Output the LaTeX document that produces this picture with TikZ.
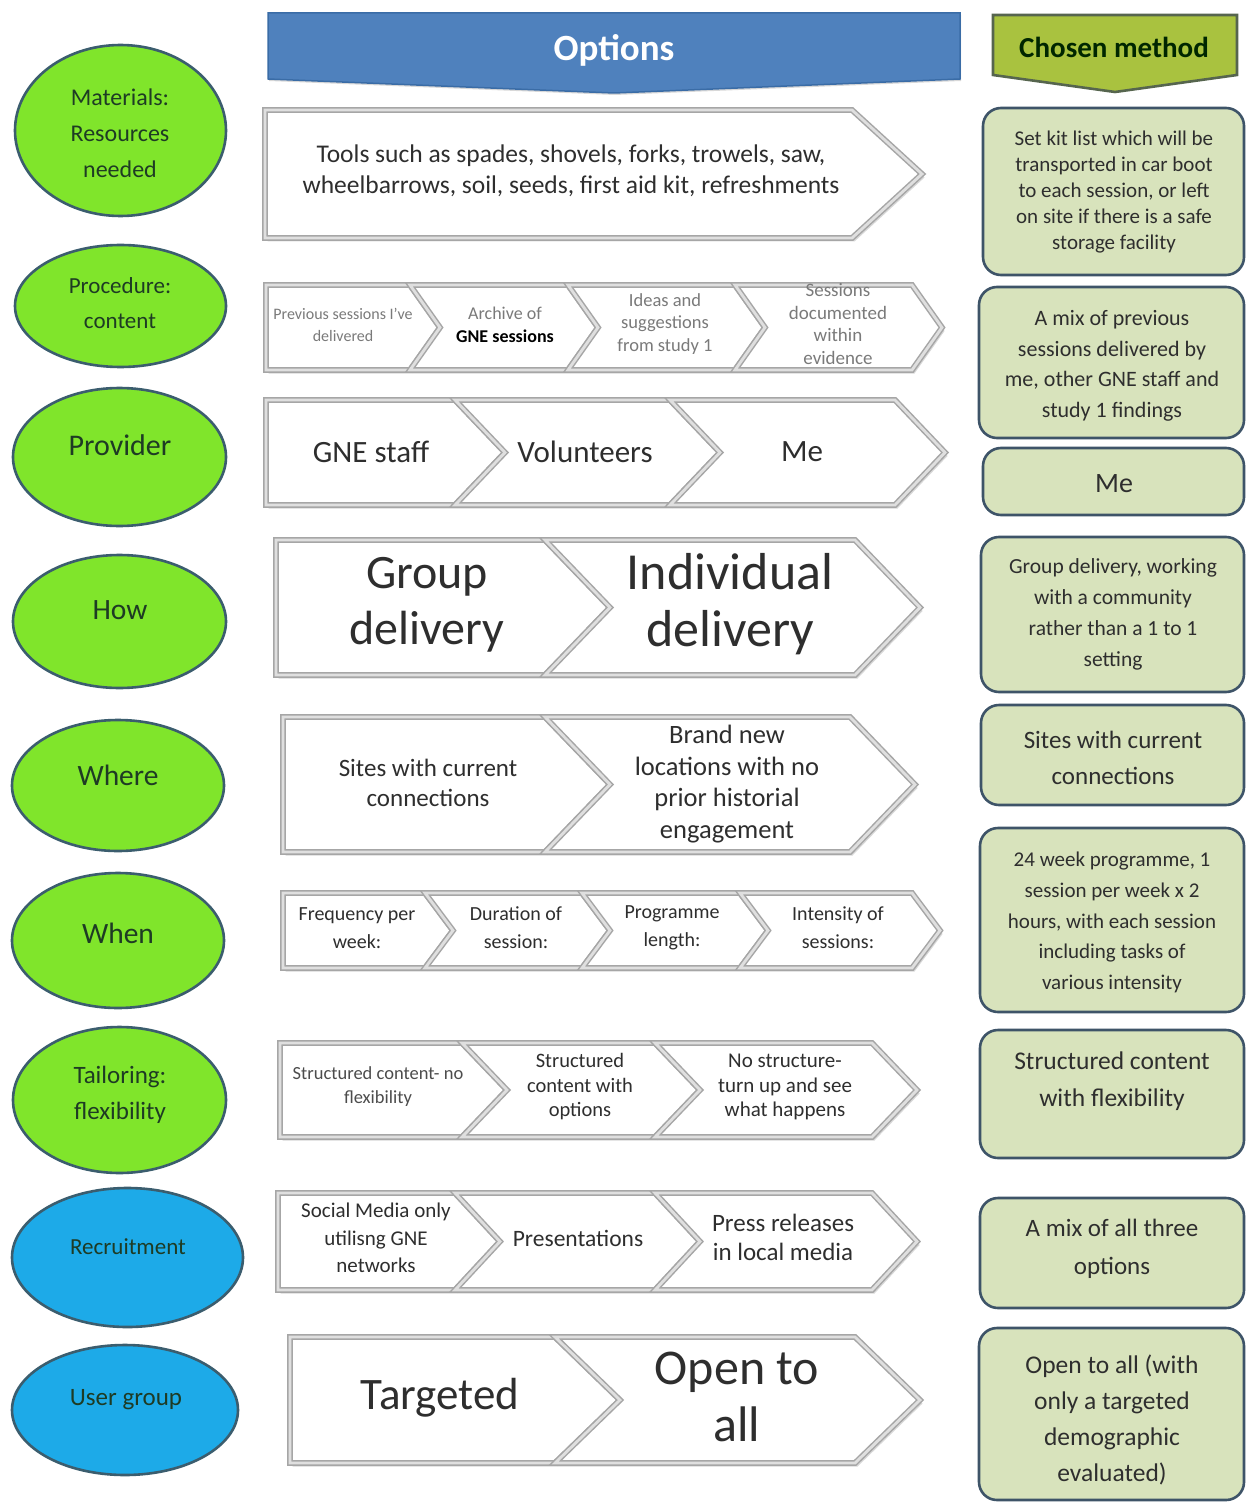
\documentclass[tikz,border=0pt]{standalone}
\usepackage{fontspec}
\setmainfont{Carlito}
\usepackage{xcolor}
\definecolor{optBlue}{HTML}{4F81BD}
\definecolor{optBlueDark}{HTML}{3A6CA6}
\definecolor{chosenOlive}{HTML}{A9C23F}
\definecolor{chosenEdge}{HTML}{56654E}
\definecolor{boxFill}{HTML}{D8E3BC}
\definecolor{boxEdge}{HTML}{3E5468}
\definecolor{topicLime}{HTML}{80E52B}
\definecolor{topicSky}{HTML}{1DAAE8}
\definecolor{topicEdge}{HTML}{3B5D6E}
\definecolor{topicInk}{HTML}{1E3B24}
\definecolor{chevInk}{HTML}{2E2E2E}
\definecolor{chevPale}{HTML}{7A7A7A}
\usepackage{tikz}
\usetikzlibrary{positioning,calc,shapes.geometric,shadows}

\newcommand{\setfs}[2]{\fontsize{#1}{#2}\selectfont}
% chevron: left x, shoulder x, top y, bottom y, tip depth, notch depth
\newcommand{\chev}[6]{%
  \path[chevbox] (#1,#3) -- (#2,#3) -- ({#2+#5},{(#3+#4)/2}) -- (#2,#4)
    -- (#1,#4) -- ({#1+#6},{(#3+#4)/2}) -- cycle;}

\begin{document}
\begin{tikzpicture}[x=1pt,y=-1pt,
      every node/.style={align=center,inner sep=0pt},
      topic/.style={ellipse,draw=topicEdge,line width=2.6pt,fill=topicLime},
      topicblue/.style={topic,fill=topicSky},
      topictxt/.style={text=topicInk},
      chevbox/.style={fill=white,draw=gray!70,line width=1.5pt,
                      double=gray!25,double distance=2.8pt,
                      drop shadow={shadow xshift=2.5pt,shadow yshift=-3.5pt,
                                   fill=gray!60,opacity=.5}},
      opttxt/.style={text=chevInk},
      chosenbox/.style={rounded corners=18pt,draw=boxEdge,line width=2.6pt,
                        fill=boxFill},
      chosentxt/.style={text=black!82},
    ]

    \fill[white] (0,0) rectangle (1248,1503);
    \useasboundingbox (0,0) rectangle (1248,1503);

    % Headers
    \path[fill=optBlue,draw=optBlueDark,line width=1.5pt,
          drop shadow={shadow xshift=1pt,shadow yshift=-2pt,opacity=.3}]
      (268,13) -- (960,13) -- (960,79) -- (614,93) -- (268,79) -- cycle;
    \node[text=white,font=\bfseries\setfs{37}{40}] (options) at (614,50) {Options};
    \path[fill=chosenOlive,draw=chosenEdge,line width=2.6pt]
      (993,15) -- (1237,15) -- (1237,75) -- (1115,92) -- (993,75) -- cycle;
    \node[text=black!85!green,font=\bfseries\setfs{29}{32}] (chosen) at (1114,47)
      {Chosen method};

    % Left: the topics
    \node[topic,minimum width=211,minimum height=171] (mat) at (120.5,130.5) {};
    \node[topictxt,font=\setfs{24}{36}] (matT) at (120,133) {Materials:\\Resources\\needed};
    \node[topic,minimum width=211,minimum height=122] (proc) at (120.5,306) {};
    \node[topictxt,font=\setfs{23}{35}] (procT) at (120,303.5) {Procedure:\\content};
    \node[topic,minimum width=213,minimum height=138] (prov) at (119.5,457) {};
    \node[topictxt,font=\setfs{30}{34}] (provT) at (120,445) {Provider};
    \node[topic,minimum width=213,minimum height=133] (how) at (119.5,621.5) {};
    \node[topictxt,font=\setfs{29.5}{34}] (howT) at (120,610) {How};
    \node[topic,minimum width=212,minimum height=131] (where) at (118,785.5) {};
    \node[topictxt,font=\setfs{29.5}{34}] (whereT) at (118,775) {Where};
    \node[topic,minimum width=212,minimum height=135] (when) at (118,940.5) {};
    \node[topictxt,font=\setfs{29.5}{34}] (whenT) at (118,933) {When};
    \node[topic,minimum width=213,minimum height=146] (tail) at (119.5,1100) {};
    \node[topictxt,font=\setfs{25}{36}] (tailT) at (120,1095) {Tailoring:\\flexibility};
    \node[topicblue,minimum width=231,minimum height=139] (recr) at (127.5,1257.5) {};
    \node[topictxt,font=\setfs{23}{28}] (recrT) at (128,1247) {Recruitment};
    \node[topicblue,minimum width=226,minimum height=130] (user) at (125,1410) {};
    \node[topictxt,font=\setfs{25}{30}] (userT) at (126,1400) {User group};

    % Middle: the options, one row of chevrons per topic
    \chev{265}{852}{110}{238}{70}{0}
    \node[opttxt,font=\setfs{25.5}{31}] (tools) at (571,171)
      {Tools such as spades, shovels, forks, trowels, saw,\\
       wheelbarrows, soil, seeds, first aid kit, refreshments};

    \chev{266}{410}{285}{370}{30}{0}
    \chev{410}{568}{285}{370}{30}{30}
    \chev{568}{735}{285}{370}{30}{30}
    \chev{735}{912}{285}{370}{30}{30}
    \node[text=chevPale,font=\setfs{16}{22.5}] (prev) at (343,325)
      {Previous sessions I've\\delivered};
    \node[text=chevPale,font=\setfs{18}{22.5}] (archive) at (505,325)
      {Archive of\\\textcolor{black}{\textbf{GNE sessions}}};
    \node[text=chevPale,font=\setfs{18.5}{22.5}] (ideas) at (665,324)
      {Ideas and\\suggestions\\from study 1};
    \node[text=chevPale,font=\setfs{19}{22.5}] (docs) at (838,324)
      {Sessions\\documented\\within\\evidence};

    \chev{266}{455}{400}{505}{50}{0}
    \chev{455}{670}{400}{505}{50}{50}
    \chev{670}{895}{400}{505}{50}{50}
    \node[opttxt,font=\setfs{31}{34}] (staff) at (371,452) {GNE staff};
    \node[opttxt,font=\setfs{31}{34}] (vol) at (585,452) {Volunteers};
    \node[opttxt,font=\setfs{31}{34}] (me) at (802,452) {Me};

    \chev{276}{545}{540}{675}{65}{0}
    \chev{545}{855}{540}{675}{65}{65}
    \node[opttxt,font=\setfs{48}{56}] (group) at (427,605) {Group\\delivery};
    \node[opttxt,font=\setfs{52}{57}] (indiv) at (730,604) {Individual\\delivery};

    \chev{283}{545}{717}{852}{65}{0}
    \chev{545}{850}{717}{852}{65}{65}
    \node[opttxt,font=\setfs{25}{30}] (sites) at (428,783) {Sites with current\\connections};
    \node[opttxt,font=\setfs{26.5}{31.5}] (brand) at (727,784)
      {Brand new\\locations with no\\prior historial\\engagement};

    \chev{283}{425}{893}{968}{28}{0}
    \chev{425}{582}{893}{968}{28}{28}
    \chev{582}{740}{893}{968}{28}{28}
    \chev{740}{912}{893}{968}{28}{28}
    \node[opttxt,font=\setfs{20}{28}] (freq) at (357,928) {Frequency per\\week:};
    \node[opttxt,font=\setfs{20}{28}] (dur) at (516,928) {Duration of\\session:};
    \node[opttxt,font=\setfs{20}{28}] (prog) at (672,928) {Programme\\length:};
    \node[opttxt,font=\setfs{20}{28}] (inten) at (838,928) {Intensity of\\sessions:};

    \chev{280}{462}{1043}{1137}{45}{0}
    \chev{462}{655}{1043}{1137}{45}{45}
    \chev{655}{872}{1043}{1137}{45}{45}
    \node[text=gray!60!black,font=\setfs{18.5}{24}] (fixed) at (378,1087)
      {Structured content- no\\flexibility};
    \node[opttxt,font=\setfs{20.5}{24.5}] (struct) at (580,1087)
      {Structured\\content with\\options};
    \node[opttxt,font=\setfs{21}{24.5}] (loose) at (785,1087)
      {No structure-\\turn up and see\\what happens};

    \chev{278}{455}{1193}{1290}{45}{0}
    \chev{455}{655}{1193}{1290}{45}{45}
    \chev{655}{872}{1193}{1290}{45}{45}
    \node[opttxt,font=\setfs{21}{27.5}] (social) at (376,1238)
      {Social Media only\\utilisng GNE\\networks};
    \node[opttxt,font=\setfs{23.5}{28}] (pres) at (578,1238) {Presentations};
    \node[opttxt,font=\setfs{25}{29}] (press) at (783,1237) {Press releases\\in local media};

    \chev{290}{555}{1337}{1463}{65}{0}
    \chev{555}{855}{1337}{1463}{65}{65}
    \node[opttxt,font=\setfs{45}{50}] (target) at (440,1398) {Targeted};
    \node[opttxt,font=\setfs{50}{57}] (open) at (737,1397) {Open to\\all};

    % Right: the chosen method per topic
    \draw[chosenbox] (983,108) rectangle (1244,275);
    \node[chosentxt,font=\setfs{21}{26}] (cMat) at (1114,192.5)
      {Set kit list which will be\\transported in car boot\\to each session, or left\\
       on site if there is a safe\\storage facility};
    \draw[chosenbox] (979,287) rectangle (1244,438);
    \node[chosentxt,font=\setfs{22}{30.5}] (cProc) at (1112,366)
      {A mix of previous\\sessions delivered by\\me, other GNE staff and\\study 1 findings};
    \draw[chosenbox] (983,448) rectangle (1244,515);
    \node[chosentxt,font=\setfs{28}{32}] (cProv) at (1114,484) {Me};
    \draw[chosenbox] (981,537) rectangle (1244,692);
    \node[chosentxt,font=\setfs{21.5}{31}] (cHow) at (1113,614)
      {Group delivery, working\\with a community\\rather than a 1 to 1\\setting};
    \draw[chosenbox] (981,705) rectangle (1244,805);
    \node[chosentxt,font=\setfs{25}{36}] (cWhere) at (1113,758)
      {Sites with current\\connections};
    \draw[chosenbox] (980,828) rectangle (1244,1012);
    \node[chosentxt,font=\setfs{21}{30.75}] (cWhen) at (1112,922.5)
      {24 week programme, 1\\session per week x 2\\hours, with each session\\
       including tasks of\\various intensity};
    \draw[chosenbox] (980,1030) rectangle (1244,1158);
    \node[chosentxt,font=\setfs{25.5}{37}] (cTail) at (1112,1081.5)
      {Structured content\\with flexibility};
    \draw[chosenbox] (980,1198) rectangle (1244,1308);
    \node[chosentxt,font=\setfs{25}{38}] (cRecr) at (1112,1249)
      {A mix of all three\\options};
    \draw[chosenbox] (979,1328) rectangle (1244,1500);
    \node[chosentxt,font=\setfs{25.5}{36}] (cUser) at (1112,1420)
      {Open to all (with\\only a targeted\\demographic\\evaluated)};

  \end{tikzpicture}
\end{document}
